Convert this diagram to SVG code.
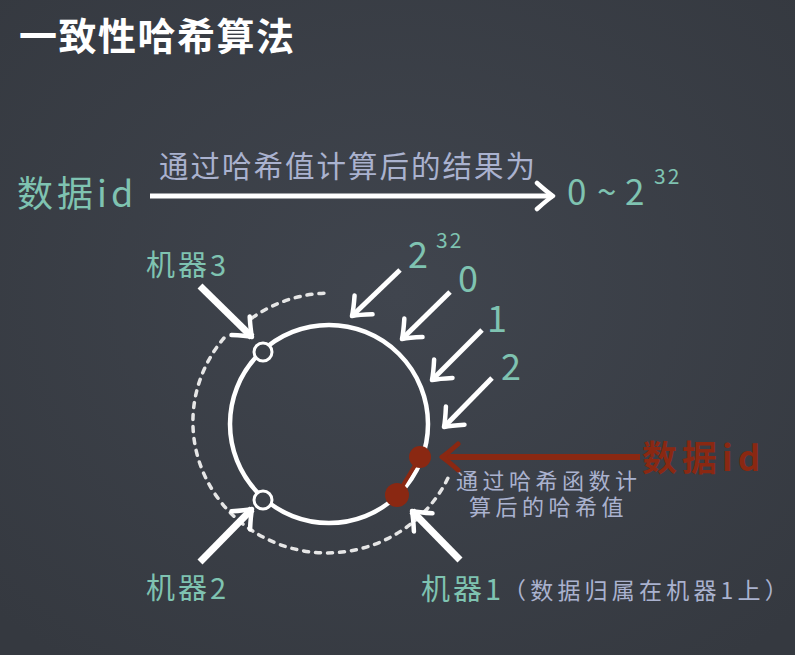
<svg xmlns="http://www.w3.org/2000/svg" width="795" height="655" viewBox="0 0 795 655">
<defs>
<radialGradient id="bg" cx="50%" cy="45%" r="70%">
<stop offset="0" stop-color="#40454e"/>
<stop offset="1" stop-color="#353940"/>
</radialGradient>
<marker id="ah" viewBox="-22 -16 26 32" markerWidth="26" markerHeight="32" refX="0" refY="0" orient="auto" markerUnits="userSpaceOnUse">
<path d="M-16,-13 Q-6,-4 0,0 Q-6,4 -16,13" fill="none" stroke="#ffffff" stroke-width="4.5" stroke-linecap="round" stroke-linejoin="round"/>
</marker>
<marker id="ahr" viewBox="-22 -16 26 32" markerWidth="26" markerHeight="32" refX="0" refY="0" orient="auto" markerUnits="userSpaceOnUse">
<path d="M-16,-13 Q-6,-4 0,0 Q-6,4 -16,13" fill="none" stroke="#8a2812" stroke-width="5" stroke-linecap="round" stroke-linejoin="round"/>
</marker>
<style>
text{font-family:"Noto Sans CJK SC","Noto Sans",sans-serif;}
.title{fill:#ffffff;font-size:38px;font-weight:bold;letter-spacing:1.5px;}
.teal{fill:#7fc3b1;}
.note{fill:#aab2cf;}
.red{fill:#8a2812;}
.arr{stroke:#ffffff;fill:none;stroke-width:5;marker-end:url(#ah);}
.thick{stroke-width:7;}
.dash{stroke:#e6e6e6;fill:none;stroke-width:3.5;stroke-dasharray:5 7;stroke-linecap:round;}
.node{fill:#3c4149;stroke:#ffffff;stroke-width:3;}
</style>
</defs>
<rect width="795" height="655" fill="url(#bg)"/>

<g id="title"><text class="title" x="19" y="50">一致性哈希算法</text></g>

<g id="header">
<text class="teal" x="17" y="207" font-size="36" letter-spacing="4">数据id</text>
<text class="note" x="159" y="177" font-size="29.5" letter-spacing="2">通过哈希值计算后的结果为</text>
<text class="teal" y="205" font-size="35"><tspan x="567">0</tspan><tspan x="597">~</tspan><tspan x="625">2</tspan></text>
<text class="teal" x="654" y="184" font-size="21" letter-spacing="2">32</text>
</g>

<g id="ring">
<circle cx="329" cy="424" r="99" fill="none" stroke="#ffffff" stroke-width="4.5"/>
<path class="dash" d="M252,318 A134,131 0 0,1 330,293"/>
<path class="dash" d="M224,338 A134,131 0 1,0 448,478"/>
</g>

<g id="labels">
<text class="teal" x="408" y="268" font-size="36">2</text>
<text class="teal" x="436" y="248" font-size="21" letter-spacing="2">32</text>
<text class="teal" x="458" y="292" font-size="36">0</text>
<text class="teal" x="487" y="332" font-size="36">1</text>
<text class="teal" x="501" y="380" font-size="36">2</text>
</g>

<g id="machine3">
<circle class="node" cx="263" cy="352" r="9"/>
<text class="teal" x="146" y="276" font-size="29" letter-spacing="3">机器3</text>
</g>
<g id="machine2">
<circle class="node" cx="263" cy="500" r="9"/>
<text class="teal" x="146" y="599" font-size="29" letter-spacing="3">机器2</text>
</g>
<g id="machine1">
<text class="teal" x="421" y="600" font-size="29" letter-spacing="3">机器1</text>
<text class="note" x="503" y="599" font-size="23" letter-spacing="4.2">（数据归属在机器1上<tspan letter-spacing="0">）</tspan></text>
</g>

<g id="data">
<line x1="420" y1="457" x2="397" y2="495" stroke="#8a2812" stroke-width="4"/>
<circle cx="420" cy="457" r="11" fill="#8a2812"/>
<circle cx="397" cy="495" r="12" fill="#8a2812"/>
<text class="red" x="642" y="471" font-size="35" font-weight="bold" letter-spacing="5">数据id</text>
<text class="note" x="456" y="489" font-size="22" letter-spacing="4.5">通过哈希函数计</text>
<text class="note" x="469" y="515" font-size="22" letter-spacing="4.5">算后的哈希值</text>
</g>

<g id="connectors">
<line class="arr" x1="150" y1="196" x2="553" y2="196"/>
<line class="arr" x1="400" y1="270" x2="352" y2="316"/>
<line class="arr" x1="450" y1="292" x2="402" y2="339"/>
<line class="arr" x1="482" y1="330" x2="432" y2="380"/>
<line class="arr" x1="492" y1="378" x2="444" y2="427"/>
<line class="arr thick" x1="200" y1="286" x2="252" y2="337"/>
<line class="arr thick" x1="200" y1="562" x2="252" y2="509"/>
<line class="arr thick" x1="460" y1="560" x2="412" y2="511"/>
<line x1="640" y1="457" x2="442" y2="457" stroke="#8a2812" stroke-width="6" marker-end="url(#ahr)"/>
</g>
</svg>
